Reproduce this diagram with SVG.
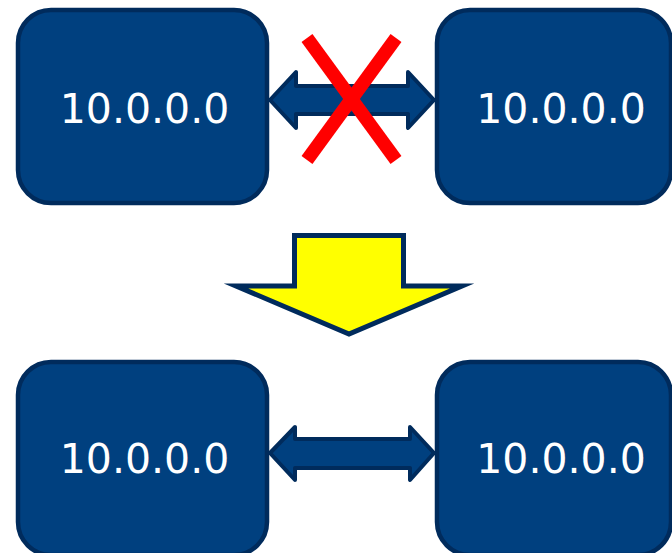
<svg xmlns="http://www.w3.org/2000/svg" width="672" height="553" viewBox="0 0 672 553">
<style>
.box{fill:#00407F;stroke:#002B5C;stroke-width:4.5}
.lbl{fill:#FFFFFF;font-family:"DejaVu Sans",Verdana,sans-serif;font-size:41px;text-anchor:middle}
.dbl{fill:#00407F;stroke:#002B5C;stroke-width:4;stroke-linejoin:round}
.cross{stroke:#FF0000;stroke-width:13.5;stroke-linecap:butt;fill:none}
.down{fill:#FFFF00;stroke:#002B5C;stroke-width:5;stroke-linejoin:miter;stroke-miterlimit:10}
</style>
<rect width="672" height="553" fill="#FFFFFF"/>
<g id="node-top-left">
<rect class="box" x="18" y="10" width="249" height="193" rx="33" ry="33"/>
<text class="lbl" x="144.5" y="123">10.0.0.0</text>
</g>
<g id="node-top-right">
<rect class="box" x="437" y="10" width="234" height="193" rx="33" ry="33"/>
<text class="lbl" x="561" y="123">10.0.0.0</text>
</g>
<g id="node-bottom-left">
<rect class="box" x="18" y="362" width="249" height="193" rx="33" ry="33"/>
<text class="lbl" x="144.5" y="473">10.0.0.0</text>
</g>
<g id="node-bottom-right">
<rect class="box" x="437" y="362" width="234" height="193" rx="33" ry="33"/>
<text class="lbl" x="561" y="473">10.0.0.0</text>
</g>
<g id="connectors">
<path class="dbl" d="M270,100 L296,72 L296,86 L408,86 L408,72 L434,100 L408,128 L408,114 L296,114 L296,128 Z"/>
<g id="cross">
<line class="cross" x1="307" y1="38" x2="396" y2="160"/>
<line class="cross" x1="396" y1="38" x2="307" y2="160"/>
</g>
<path class="down" d="M294.5,235.5 L403.5,235.5 L403.5,286 L462,286 L349,334 L236,286 L294.5,286 Z"/>
<path class="dbl" d="M270,453 L295,427 L295,439 L410,439 L410,427 L434,453 L410,480 L410,468 L295,468 L295,480 Z"/>
</g>
</svg>
